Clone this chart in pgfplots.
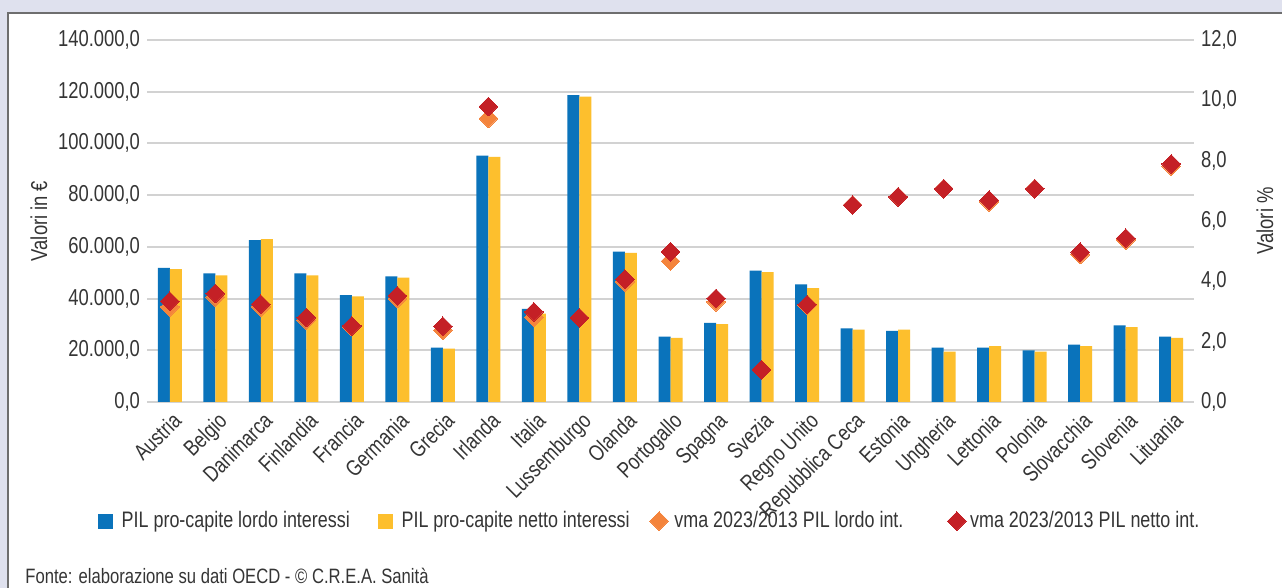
\documentclass[border=0pt]{standalone}
\usepackage{pgfplots}
\usepackage{pgfplotstable}
\pgfplotsset{compat=1.18}
\usepackage{fontspec}
\setmainfont{Liberation Sans}[FakeStretch=0.8]
\definecolor{cBlue}{HTML}{0A73BB}
\definecolor{cYellow}{HTML}{FDBF2D}
\definecolor{cOrange}{HTML}{F4843C}
\definecolor{cRed}{HTML}{C42026}
\definecolor{cGrid}{HTML}{D2D2D2}
\definecolor{cBg}{HTML}{DFE1EE}
\definecolor{cText}{HTML}{353535}
\definecolor{cBorder}{HTML}{6E6E6E}

\pgfplotstableread{
x lordo netto vmal vman
0 51900 51400 3.15 3.34
1 49700 49000 3.48 3.60
2 62600 63000 3.15 3.24
3 49700 49000 2.71 2.80
4 41300 40800 2.50 2.52
5 48600 48100 3.43 3.52
6 21000 20600 2.38 2.51
7 95300 94800 9.40 9.79
8 36000 34200 2.81 2.99
9 118700 118100 2.79 2.79
10 58200 57700 3.98 4.07
11 25300 24800 4.67 4.98
12 30600 30100 3.32 3.43
13 50800 50200 1.07 1.07
14 45500 44000 3.20 3.23
15 28500 28000 6.53 6.53
16 27500 28000 6.80 6.80
17 21000 19500 7.07 7.07
18 21000 21600 6.63 6.69
19 20000 19500 7.07 7.07
20 22200 21600 4.89 4.97
21 29600 29000 5.37 5.43
22 25300 24800 7.82 7.89
}\data

\begin{document}
\begin{tikzpicture}
% background and frame
\fill[cBg] (0,0) rectangle (641pt,294pt);
\fill[white] (4pt,0) rectangle (641pt,287.5pt);
\draw[cBorder, line width=0.8pt] (4pt,0) -- (4pt,287.5pt) -- (641pt,287.5pt);

\pgfplotsset{
  common/.style={
    at={(73.5pt,93pt)}, anchor=south west, scale only axis,
    width=523.5pt, height=181pt,
    xmin=-0.5, xmax=22.5,
    axis line style={draw=none}, major tick length=0pt,
    tick label style={font=\fontsize{11.5}{13}\selectfont, text=cText},
    /pgf/number format/assume math mode=true,
  }
}

\begin{axis}[common,
  ymin=0, ymax=140000,
  ytick={0,20000,...,140000},
  scaled y ticks=false,
  yticklabel style={/pgf/number format/.cd, fixed, fixed zerofill, precision=1, use comma},
  ymajorgrids, grid style={cGrid, line width=1pt},
  xtick={0,...,22},
  xticklabels={Austria,Belgio,Danimarca,Finlandia,Francia,Germania,Grecia,Irlanda,Italia,Lussemburgo,Olanda,Portogallo,Spagna,Svezia,Regno Unito,Repubblica Ceca,Estonia,Ungheria,Lettonia,Polonia,Slovacchia,Slovenia,Lituania},
  xticklabel style={rotate=45, anchor=north east, font=\fontsize{11.2}{13}\selectfont, inner sep=1pt, xshift=-1.5pt, yshift=-2.5pt},
  every axis y label/.style={at={(axis description cs:-0.1032,0.5)}, anchor=center, rotate=90},
  ylabel={Valori in €},
  label style={font=\fontsize{11.5}{13}\selectfont, text=cText},
]
\addplot[ybar, bar width=6pt, bar shift=-3pt, fill=cBlue, draw=none, forget plot] table[x=x,y=lordo]{\data};
\addplot[ybar, bar width=6pt, bar shift=3pt, fill=cYellow, draw=none, forget plot] table[x=x,y=netto]{\data};
\end{axis}

\begin{axis}[common,
  ymin=0, ymax=12,
  ytick={0,2,...,12},
  axis x line=none, axis y line*=right,
  yticklabel style={/pgf/number format/.cd, fixed, fixed zerofill, precision=1, use comma},
  every axis y label/.style={at={(axis description cs:1.0678,0.5)}, anchor=center, rotate=90},
  ylabel={Valori \%},
  label style={font=\fontsize{11.5}{13}\selectfont, text=cText},
  legend columns=4,
  legend style={at={(axis description cs:0.481,-0.329)}, anchor=center, draw=none, fill=none,
    font=\fontsize{11.2}{13}\selectfont, text=cText,
    /tikz/column 1/.style={column sep=2.5pt},
    /tikz/column 3/.style={column sep=2.5pt},
    /tikz/column 5/.style={column sep=1pt},
    /tikz/column 2/.style={column sep=12pt},
    /tikz/column 4/.style={column sep=8pt},
    /tikz/column 6/.style={column sep=20pt}},
  legend cell align=left,
]
\addlegendimage{legend image code/.code={\fill[cBlue] (0pt,-3.5pt) rectangle (7pt,3.5pt);}}
\addlegendentry{PIL pro-capite lordo interessi}
\addlegendimage{legend image code/.code={\fill[cYellow] (0pt,-3.5pt) rectangle (7pt,3.5pt);}}
\addlegendentry{PIL pro-capite netto interessi}
\addplot[only marks, mark=square*, mark size=3.3pt, mark options={rotate=45, fill=cOrange, draw=cOrange, line width=0pt}] table[x=x,y=vmal]{\data};
\addlegendentry{vma 2023/2013 PIL lordo int.}
\addplot[only marks, mark=square*, mark size=3.3pt, mark options={rotate=45, fill=cRed, draw=cRed, line width=0pt}] table[x=x,y=vman]{\data};
\addlegendentry{vma 2023/2013 PIL netto int.}
\end{axis}

\node[anchor=west, inner sep=0pt, text=cText, font=\fontsize{10.4}{12}\selectfont] at (12.5pt,6pt) {Fonte: elaborazione su dati OECD - © C.R.E.A. Sanità};

\pgfresetboundingbox
\useasboundingbox (0,0) rectangle (641pt,294pt);
\end{tikzpicture}
\end{document}
